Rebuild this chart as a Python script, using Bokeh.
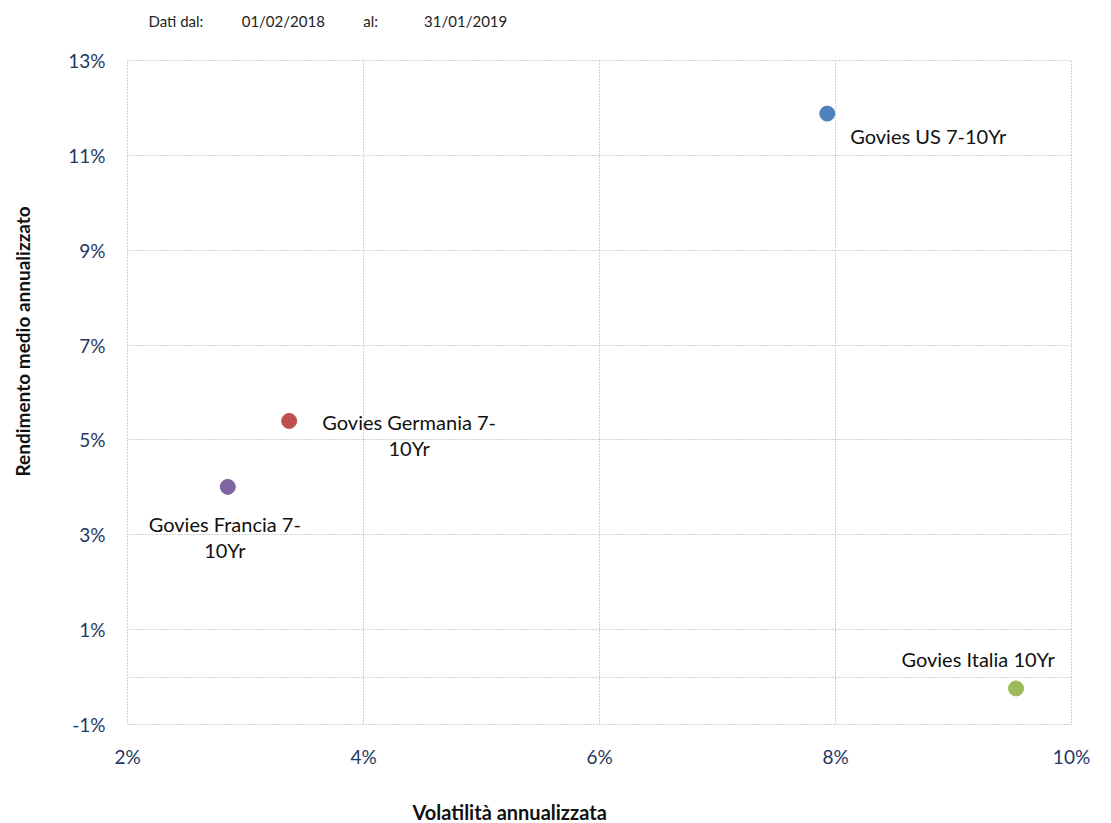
from bokeh.plotting import figure
from bokeh.models import ColumnDataSource, Range1d, FixedTicker, PrintfTickFormatter, Title
from bokeh.core.properties import value
from bokeh.embed import file_html
from bokeh.resources import INLINE

# ---- data ----
names = ["Govies US 7-10Yr", "Govies Germania 7-\n10Yr", "Govies Francia 7-\n10Yr", "Govies Italia 10Yr"]
volatility = [7.93, 3.37, 2.85, 9.53]      # %
returns = [11.88, 5.40, 4.01, -0.24]       # %
colors = ["#4f81bd", "#c0504d", "#8064a2", "#9bbb59"]
x_ticks = [2, 4, 6, 8, 10]
y_ticks = [-1, 1, 3, 5, 7, 9, 11, 13]
y_grid = [-1, 0, 1, 3, 5, 7, 9, 11, 13]
date_from = "01/02/2018"
date_to = "31/01/2019"

# label placement (styles)
lab_dx = [23, 120, -3, -38]
lab_dy = [10, -11, 25, -41]
lab_align = ["left", "center", "center", "center"]

FONT = "Lato"
NAVY = "#1f3864"
NB = "\u00a0"

p = figure(width=1100, height=823, output_backend="svg", toolbar_location=None,
           x_range=Range1d(2, 10), y_range=Range1d(-1, 13),
           min_border_left=127, min_border_right=29, min_border_top=60, min_border_bottom=99,
           background_fill_color="white", border_fill_color="white")

p.outline_line_color = "#a6a6a6"
p.outline_line_dash = "1 2"
p.outline_line_width = 1

for ax in (p.xaxis, p.yaxis):
    ax.axis_line_color = None
    ax.major_tick_line_color = None
    ax.minor_tick_line_color = None
    ax.major_tick_out = 0
    ax.major_tick_in = 0
    ax.major_label_text_font = FONT
    ax.major_label_text_font_size = "19px"
    ax.major_label_text_color = NAVY
    ax.formatter = PrintfTickFormatter(format="%d%%")

p.xaxis.ticker = FixedTicker(ticks=x_ticks)
p.yaxis.ticker = FixedTicker(ticks=y_ticks)
p.xaxis.major_label_standoff = 20
p.yaxis.major_label_standoff = 22

p.xgrid.ticker = FixedTicker(ticks=x_ticks)
p.ygrid.ticker = FixedTicker(ticks=y_grid)
for g in (p.xgrid, p.ygrid):
    g.grid_line_color = "#a6a6a6"
    g.grid_line_dash = "1 2"
    g.grid_line_width = 1

src = ColumnDataSource(dict(x=volatility, y=returns, name=names, color=colors,
                            dx=lab_dx, dy=lab_dy, align=lab_align))
p.scatter("x", "y", source=src, size=15, fill_color="color", line_color="color")
p.text("x", "y", text="name", source=src, x_offset="dx", y_offset="dy",
       text_align="align", text_baseline="top", text_font=value(FONT),
       text_font_size="20px", text_color="#111111", text_line_height=1.1)


def spacer(px):
    return Title(text=NB, text_font_size="1px", standoff=px)


# header line above the plot
header = ("Dati dal:" + NB * 10 + date_from + NB * 10 + "al:" + NB * 12 + date_to)
p.add_layout(spacer(28), "above")
p.add_layout(Title(text=header, align="left", offset=21, standoff=0,
                   text_font=FONT, text_font_size="15px", text_font_style="normal",
                   text_color="#222222"), "above")

# y axis title
p.add_layout(spacer(29), "left")
p.add_layout(Title(text="Rendimento medio annualizzato", align="left", offset=248, standoff=0,
                   text_font=FONT, text_font_size="19px", text_font_style="bold",
                   text_color="#111111"), "left")

# x axis title
p.add_layout(spacer(24), "below")
p.add_layout(Title(text="Volatilità annualizzata", align="left", offset=285, standoff=0,
                   text_font=FONT, text_font_size="20px", text_font_style="bold",
                   text_color="#111111"), "below")

open("out.html", "w").write(file_html(p, INLINE))
